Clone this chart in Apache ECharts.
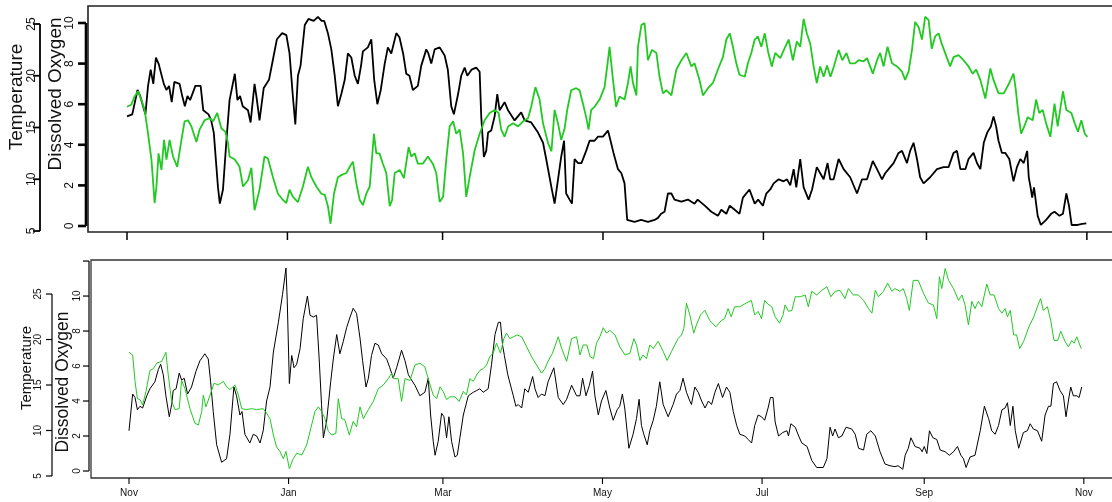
<!DOCTYPE html>
<html>
<head>
<meta charset="utf-8">
<script src="https://cdn.jsdelivr.net/npm/echarts@6/dist/echarts.min.js"></script>
<style>
html,body{margin:0;padding:0;background:#fff;overflow:hidden;}
/* box runs past the right edge of the picture, so the canvas is a bit wider than the window */
#main{width:1140px;height:502px;}
</style>
</head>
<body>
<div id="main"></div>
<script>
// x = days since 1 Nov
var monthTicks=[0,61,120,181,242,304,365];
var monthNames=['Nov','Jan','Mar','May','Jul','Sep','Nov'];
var tempTicks=[5,10,15,20,25];
var doTicksTop=[0,2,4,6,8,10];
var doTicksBottom=[0,2,4,6,8,10,12];
var doLabelsBottom=[0,2,4,6,8,10];

// upper panel - dissolved oxygen (black)
var topDO=[[0,5.4],[2,5.5],[4,6.7],[5,6.4],[7,5.5],[8,6.9],[9,7.7],[10,7.0],[11,8.3],[12,8.0],[14,7.0],[15,6.7],[16,6.9],[17,6.1],[18,7.1],[20,7.0],[21,6.4],[22,5.9],[23,6.4],[24,6.2],[26,6.9],[28,6.9],[29,5.7],[31,5.5],[32,5.2],[33,4.6],[34.6,1.9],[35.3,1.1],[36.5,1.8],[37.8,4.2],[39,6.2],[41,7.5],[42,6.2],[43,6.4],[44,5.9],[46,5.7],[47,5.1],[48.5,7.0],[49.2,6.4],[50.4,5.2],[52,6.8],[54,7.2],[55.5,8.2],[57,9.2],[59,9.5],[60.6,9.4],[61.8,8.5],[63,6.5],[64,5.0],[65,7.4],[66,7.9],[67.6,9.9],[69,10.2],[71,10.1],[72.6,10.3],[74,10.1],[75,10.1],[76.4,9.5],[77.7,8.7],[79,7.4],[80.2,5.9],[81.5,6.5],[82.8,7.2],[84,8.5],[85.3,8.3],[86.6,7.4],[87.8,7.0],[89,7.9],[89.7,8.6],[91.6,8.8],[92.9,9.2],[94,7.2],[95.2,6.0],[96.5,6.7],[98,8.0],[99.2,8.8],[100.5,8.5],[102.4,9.5],[103.6,9.3],[105,8.5],[106.2,7.5],[107.4,7.4],[108.7,6.7],[110.6,6.9],[111.9,7.9],[113.8,8.7],[114.6,8.5],[115.7,8.0],[117,8.7],[118.9,8.8],[120.8,8.4],[122,7.7],[123.3,5.9],[124.3,5.5],[125.9,6.5],[127.1,7.4],[128.4,7.8],[129.4,7.4],[131,7.7],[132.8,7.8],[134.1,7.6],[134.7,5.4],[135.7,3.4],[136.6,3.7],[137.3,4.6],[138.5,4.7],[139.8,5.4],[140.8,6.5],[141.7,5.7],[143.6,6.1],[144.9,5.7],[147.4,5.2],[149.9,5.6],[151.2,5.2],[153.7,5.1],[156.3,4.6],[158.2,4.1],[159.4,3.3],[161.4,1.9],[162.6,1.1],[163.9,2.3],[165.1,3.4],[166.2,4.2],[167,1.6],[168.3,1.3],[169.2,1.1],[170.2,3.3],[171.5,3.1],[172.8,3.1],[174.6,3.7],[175.9,4.2],[177.8,4.2],[179.1,4.4],[181,4.4],[182.9,4.7],[183.5,4.4],[185,3.6],[186.7,2.8],[188,2.6],[189.2,2.1],[190.2,0.3],[193,0.2],[195.5,0.3],[198.1,0.2],[200.6,0.3],[201.9,0.4],[203.1,0.6],[204.4,0.7],[205.7,1.6],[207,1.6],[208.2,1.3],[210.8,1.2],[213.3,1.3],[215.8,1.1],[217,1.3],[219.7,1.0],[222.2,0.7],[224.7,0.5],[226,0.8],[227.9,0.6],[229.2,1.0],[231.1,0.8],[232.9,0.6],[234.2,1.4],[236.7,1.8],[238.7,1.1],[240,1.3],[241.8,1.0],[243.1,1.6],[244.6,1.8],[245.9,2.1],[247.8,2.3],[249.7,2.2],[251,2.3],[252.2,2.0],[253.5,2.8],[254.5,1.9],[256,3.3],[257.3,1.9],[259.2,1.3],[260.5,1.8],[262.3,2.9],[263.6,2.6],[264.9,2.3],[266.4,3.1],[267.4,2.3],[268.7,2.3],[270.6,3.3],[272.5,2.8],[275,2.4],[277.6,1.6],[279.5,2.3],[281.4,2.3],[283.6,3.2],[285.2,2.8],[287.1,2.3],[288.3,2.6],[289.6,2.8],[291.5,3.1],[293.4,3.6],[294.7,3.7],[296.6,3.1],[297.8,3.7],[299.1,4.1],[300.4,3.3],[301.6,2.4],[302.9,2.1],[305.4,2.4],[308,2.8],[310.5,2.9],[312.4,2.9],[314.3,3.6],[315.6,3.7],[316.9,2.8],[318.8,2.8],[320,3.3],[321.9,3.6],[323.2,3.1],[324.5,2.8],[325.8,4.1],[327.1,4.6],[328.5,4.9],[329.5,5.4],[330.5,4.9],[331.4,4.2],[332.7,3.6],[334,3.6],[335.5,3.3],[337.1,2.2],[338.4,2.9],[339.7,3.3],[341,3.1],[342.3,3.7],[342.9,2.4],[343.6,1.9],[344.2,1.4],[344.9,1.9],[346.3,0.5],[347.5,0.05],[349.5,0.3],[351.4,0.6],[352.7,0.7],[354.6,0.5],[355.9,0.6],[357.2,1.6],[358.2,1.0],[359.2,0.05],[361.5,0.05],[363.2,0.1],[364.8,0.13]];

// upper panel - temperature (green)
var topTemp=[[0,17.0],[1.6,17.2],[2.9,18.0],[4.2,18.5],[5.4,17.7],[6.7,16.7],[8,14.4],[9.3,11.9],[10.5,7.7],[11.2,9.3],[12,12.5],[13.1,10.9],[14.1,13.8],[15,11.9],[16.2,13.8],[17.5,12.2],[19.1,11.2],[20.7,13.8],[21.9,15.6],[23.2,15.7],[24.5,15.1],[26.4,13.6],[27.6,14.8],[29.5,15.7],[31.4,15.9],[32.7,15.6],[34.3,16.4],[35.9,14.9],[37.4,14.6],[38.4,13.5],[39,12.2],[41,11.9],[42.8,11.2],[44.1,9.3],[46,9.9],[47.3,11.1],[48.5,7.0],[50.4,9.0],[52.3,12.2],[53.6,12.0],[55.5,10.2],[57.4,8.6],[59.3,8.0],[60.6,7.7],[61.8,9.0],[63.1,8.3],[65,7.8],[66.9,9.3],[68.8,11.2],[70.1,10.2],[72,9.3],[73.9,8.6],[75.2,8.5],[76.4,7.4],[77.4,5.7],[78.7,8.6],[80.2,10.2],[81.5,10.4],[83.4,10.6],[84.7,11.2],[85.9,11.7],[87.2,9.6],[88.5,8.0],[89.7,7.5],[91,8.6],[92.3,9.3],[93.9,14.4],[94.8,12.5],[96,12.5],[97.3,11.5],[98.6,10.6],[99.9,7.4],[100.8,8.0],[101.8,10.6],[103.7,10.9],[105.3,10.1],[107.1,13.1],[108.1,12.2],[109.4,12.5],[110.6,11.5],[112.5,11.5],[114.4,12.2],[116.3,11.5],[117.6,10.6],[118.9,7.8],[120.2,8.3],[121.4,11.9],[122.7,15.1],[124,15.6],[125.2,14.4],[126.5,14.8],[127.8,12.5],[129,8.3],[130.3,10.2],[132.2,12.8],[134.1,14.4],[136,15.7],[137.9,16.4],[139.8,16.7],[141.3,16.4],[142.3,14.8],[143.6,14.1],[144.9,15.1],[146.8,15.4],[148.7,15.1],[150.6,15.6],[152.5,15.9],[153.7,17.0],[155.3,18.9],[156.9,17.7],[158.2,15.4],[160.1,13.5],[161.4,12.7],[162.6,16.7],[163.9,15.4],[165.1,13.8],[166.4,14.9],[167.4,16.7],[168.9,18.6],[170.8,18.8],[172.1,18.6],[173.4,17.3],[174.6,16.0],[175.5,14.8],[176.5,16.7],[177.8,17.0],[179.7,17.7],[181.6,18.9],[182.6,20.9],[183.5,22.8],[184.8,19.6],[186,17.0],[187.3,18.0],[189.2,17.7],[190.5,19.3],[191.5,20.9],[192.4,19.3],[193.7,18.1],[194.3,22.8],[195.6,24.9],[196.8,25.1],[198.1,21.5],[199.6,22.5],[201.3,22.2],[202.5,19.9],[203.8,18.3],[205.1,18.6],[207,18.1],[208.9,20.6],[210.8,21.5],[212.7,22.2],[214.6,20.9],[215.8,21.2],[217.7,19.6],[219,18.1],[220.9,18.8],[222.8,19.3],[224.7,20.6],[226.6,21.8],[227.9,23.5],[229.2,24.1],[230.4,22.8],[231.7,21.2],[232.9,20.1],[234.9,19.9],[236.1,21.2],[237.4,22.2],[238.7,23.5],[239.9,23.8],[241.2,22.8],[242.5,24.1],[243.8,22.3],[245.2,20.9],[246.5,22.2],[248.4,21.7],[250.3,22.8],[251.6,23.5],[253.2,21.5],[254.7,23.3],[256,22.8],[257.3,25.5],[258.5,24.1],[259.8,23.1],[261.1,20.9],[262.3,19.3],[263.6,20.9],[264.9,19.9],[266.2,21.0],[267.5,19.9],[268.8,20.9],[270.6,22.5],[272,21.5],[273.6,22.2],[274.9,21.2],[276.8,21.2],[278.2,21.5],[280.1,21.4],[281.4,21.7],[283.6,20.2],[285.2,21.5],[286.4,22.2],[287.7,20.9],[289.2,22.8],[290.9,21.2],[292.8,20.9],[294.7,20.4],[295.9,19.6],[297.2,20.4],[298.5,22.5],[299.7,25.2],[301,24.7],[302.3,23.5],[303.5,25.7],[304.8,25.4],[306,22.6],[307.3,23.8],[308.6,24.1],[309.8,23.1],[311.7,21.8],[313,20.9],[314.3,21.8],[316.2,22.0],[318.1,21.5],[320,20.9],[321.6,20.2],[322.9,20.6],[324.5,19.6],[326.4,17.8],[328.3,20.7],[329.5,19.6],[331.4,18.3],[333.4,18.3],[335.5,19.3],[337.1,20.2],[338,18.6],[338.9,16.4],[340,14.4],[341.2,15.1],[342.5,16.0],[344.4,15.7],[345.7,17.7],[346.9,16.4],[348.2,16.7],[349.5,15.4],[351.1,14.1],[352.7,17.3],[353.9,15.1],[355.9,18.5],[357.2,16.7],[359.1,16.4],[360.4,15.4],[361.6,14.6],[362.9,15.7],[364.2,14.4],[365.2,14.1]];

// lower panel - dissolved oxygen (black)
var botDO=[[0,2.3],[1.4,4.4],[2.3,4.2],[3.2,3.5],[4.2,3.7],[5.2,3.6],[6.8,4.3],[8,4.7],[9.9,5.1],[11.2,5.8],[12.1,6.1],[13.1,5.5],[14.1,4.3],[15.4,3.1],[16.3,3.8],[16.9,4.6],[18,4.7],[19.2,5.6],[20.1,5.2],[21.1,5.3],[22.4,4.4],[23.9,4.8],[25.6,5.7],[27.1,6.3],[29,6.7],[30.3,6.4],[31.2,5.1],[32.2,3.4],[33.5,1.5],[35.4,0.5],[37.3,0.7],[38.6,2.1],[40.1,4.8],[41.1,4.3],[42.4,3.2],[43.2,3.4],[44.3,2.1],[46.2,1.6],[47.5,2.1],[48.8,2.0],[50.1,1.6],[51.3,2.3],[52.6,4.0],[53.9,4.8],[55.2,6.8],[57.1,8.5],[58.7,10.1],[60,11.6],[60.5,9.7],[61.3,5.0],[62.2,6.6],[63.1,5.9],[64.1,6.1],[65.4,7.0],[66.6,8.7],[68.2,10.0],[69.2,8.9],[70.4,8.8],[71.7,8.9],[72.7,6.4],[73.6,3.8],[74.3,1.9],[75.5,2.8],[77.1,5.1],[78.1,6.4],[79.4,7.8],[80.6,6.7],[81.9,7.4],[83.2,8.2],[84.5,8.8],[85.7,9.3],[87,9.0],[88.3,7.6],[89.3,6.3],[90.6,4.8],[91.5,5.3],[92.7,6.6],[94,7.3],[95.3,7.2],[96.6,6.7],[98.5,6.4],[99.7,5.9],[101,5.3],[102.3,5.9],[104.2,6.9],[105.5,6.3],[106.8,5.5],[108,5.2],[109.3,4.9],[111.2,4.3],[113.1,4.5],[114.4,5.3],[115.3,3.2],[116.3,1.7],[117,0.9],[118.2,1.7],[119.5,3.3],[120.4,3.1],[121.4,1.9],[122.3,3.1],[123.3,1.7],[124.6,0.8],[125.5,0.9],[126.5,1.9],[127.8,3.2],[129.7,4.3],[131.6,4.5],[132.9,4.6],[134.1,4.7],[135.4,4.5],[137.3,4.7],[138.6,6.1],[139.9,7.8],[141.2,8.5],[142,8.5],[142.8,7.2],[143.5,6.6],[144.8,5.5],[146.9,4.3],[147.9,3.7],[148.8,3.8],[150.1,3.6],[151.3,4.7],[152.6,4.5],[154.3,5.4],[155.2,4.7],[156.4,4.2],[157.7,4.4],[159,4.3],[160.2,5.1],[162.4,5.9],[164.1,4.2],[166,3.8],[167.3,4.1],[169.2,4.9],[171.1,4.3],[172.4,4.3],[173.4,5.3],[174.7,4.3],[176,4.9],[177.2,5.7],[178.1,4.3],[179.4,3.2],[180.6,4.0],[182.3,4.6],[183.8,3.6],[185.1,2.9],[186.6,3.5],[187.6,3.7],[188.6,4.4],[189.5,3.6],[191.1,1.3],[192.7,2.1],[194,3.0],[195,4.1],[195.9,2.6],[196.8,2.1],[198.1,1.5],[199.1,2.3],[200.4,2.9],[201.6,3.7],[202.9,5.1],[204.2,3.8],[206.1,3.1],[208,3.8],[209.3,4.4],[210.6,4.6],[211.8,5.3],[213.1,4.5],[214.4,4.0],[215,3.8],[216.3,4.8],[217.6,4.5],[218.9,4.0],[220.2,3.6],[221.5,4.0],[222.7,3.8],[224,4.5],[225.3,5.0],[226.9,4.2],[228.4,4.8],[229.7,4.5],[231,3.4],[232.3,2.6],[233.5,2.1],[235.4,2.0],[236.7,1.8],[238,1.6],[239.2,2.6],[240.5,3.2],[241.8,3.1],[243,2.9],[244.3,3.6],[245.2,4.2],[246.2,4.2],[247,2.8],[248.3,2.0],[249.9,2.2],[251.5,2.3],[252.1,2.0],[253,2.7],[254.7,2.5],[256,2.0],[257.2,1.6],[259.2,1.4],[261,0.6],[262.9,0.2],[265.4,0.2],[266.8,0.7],[268,2.5],[269,2.0],[269.9,2.4],[271.2,1.9],[272.5,2.0],[274.1,2.5],[276.3,2.4],[277.6,2.1],[278.9,1.3],[280.8,1.2],[282,2.1],[283.6,2.3],[285.3,2.0],[287.1,1.1],[289,0.4],[290.9,0.3],[292.8,0.25],[294,0.3],[295.8,0.1],[296.7,0.9],[297.9,1.3],[298.9,1.9],[300.5,1.4],[302.4,1.3],[303.2,1.1],[304,1.4],[305,1.0],[306,2.3],[307.3,1.9],[308.8,1.8],[310.1,1.2],[312,1.1],[313.6,0.9],[315.2,1.1],[316.7,1.4],[318,0.9],[319,0.7],[320,0.2],[321.5,0.8],[323.4,0.9],[325.4,2.3],[327,3.7],[328.6,3.0],[329.8,2.3],[331.1,2.1],[332.4,2.6],[333.7,3.5],[334.9,3.6],[335.8,3.9],[336.9,2.6],[337.9,3.7],[338.8,2.3],[340.1,1.3],[341.9,2.2],[343.4,2.3],[344.5,2.7],[345.7,2.4],[347.3,2.3],[348.9,1.7],[350.2,3.2],[351.5,3.7],[352.4,3.7],[353.4,5.0],[354.6,5.1],[355.9,4.6],[357.2,4.3],[358.2,3.1],[359.1,4.0],[360,4.8],[361,4.3],[362.3,4.3],[363.2,4.2],[364.2,4.8]];

// lower panel - temperature (green)
var botTemp=[[0,18.6],[1.4,18.3],[2.3,15.4],[3.2,13.5],[4.2,13.4],[5.2,12.8],[6.5,14.3],[8,16.6],[9.3,16.8],[10.6,17.4],[12.5,17.6],[14.1,18.6],[15,16.1],[16.3,13.2],[17.6,12.3],[19.2,12.4],[20.1,15.5],[21.4,14.6],[23.3,12.4],[25.2,10.8],[26.5,10.6],[27.8,12.1],[28.4,13.9],[29.4,12.6],[31,13.9],[32.5,15.2],[34.1,15.0],[36.1,15.4],[37.3,14.8],[38.6,14.5],[40.5,15.0],[41.8,13.9],[43.1,12.4],[45,12.3],[46.9,12.4],[48.8,12.3],[51.3,12.4],[52.6,11.9],[53.9,11.3],[55.2,9.5],[56.4,8.2],[57.7,7.7],[59,6.9],[60,7.7],[61.3,5.8],[62.8,6.9],[64.1,7.5],[66,7.3],[67.9,8.4],[69.8,10.6],[71.1,12.1],[72.4,12.6],[73.6,12.1],[74.9,11.3],[76.2,9.9],[77.5,9.5],[79.1,9.7],[80,13.5],[81.3,11.3],[82.5,11.2],[84.2,9.5],[85.7,11.0],[87,10.4],[88.3,12.6],[89.6,11.3],[91.5,12.3],[93.4,13.2],[95.3,14.6],[97.2,15.0],[99.1,15.7],[100.4,16.3],[101.3,15.7],[102.9,15.7],[104.2,13.2],[105.5,15.7],[107.4,15.5],[109.3,17.2],[111.2,17.4],[113.1,17.0],[115,15.1],[116.3,13.9],[117.6,13.5],[118.9,14.8],[120.1,14.3],[121.4,13.4],[122.7,13.7],[124.6,13.7],[126.2,13.2],[127.8,14.3],[129,13.9],[130.3,15.7],[131.6,15.4],[132.9,16.1],[134.1,16.6],[135.4,16.8],[136.7,17.2],[137.9,18.1],[139.2,18.5],[140.5,19.6],[142,18.5],[143.3,20.1],[144.3,20.7],[145.6,20.1],[146.9,20.3],[148.4,20.5],[150.1,20.3],[152,19.2],[153.9,18.1],[155.8,17.2],[157.7,16.3],[159,16.8],[160.2,17.6],[161.9,18.5],[164.1,20.3],[165.4,19.0],[167.3,17.6],[169.2,20.1],[171.1,20.3],[172.4,18.3],[173.6,19.4],[175,19.4],[176.3,18.1],[177.6,17.9],[178.7,19.6],[180,20.3],[181.3,21.3],[182.5,20.7],[183.8,21.0],[185.8,20.5],[187.6,19.2],[189.6,18.3],[191.5,18.5],[193,20.1],[194,19.4],[195.3,17.7],[196.5,18.3],[197.8,17.9],[199.1,19.4],[200.4,19.0],[202.3,19.8],[204.2,18.7],[205.7,17.7],[207.4,18.7],[209.9,20.1],[211.2,20.5],[212.1,21.2],[213.1,24.0],[214.4,22.7],[215.9,20.7],[216.9,21.6],[218.5,22.7],[220.1,23.2],[222,22.1],[224.3,21.4],[226.5,22.1],[227.7,22.3],[229,23.4],[230.2,22.5],[231.5,23.6],[233.5,23.6],[235.9,24.0],[237.9,24.3],[239.2,22.7],[240.5,23.1],[241.8,22.3],[243,24.3],[244.2,23.9],[245.7,23.6],[247,22.5],[248.7,21.8],[250,22.7],[250.8,23.8],[252.1,23.1],[253.4,23.2],[254.7,24.7],[256.6,24.7],[258.5,24.9],[259.7,23.6],[261,25.3],[262.9,24.9],[264.8,25.4],[266.8,25.8],[268.3,24.7],[269.9,25.3],[271.8,25.4],[273.7,24.5],[275,25.6],[276.9,24.9],[278.8,24.9],[280.8,24.3],[282.7,23.4],[284,22.9],[285.3,25.4],[286.5,24.7],[288.4,25.3],[290,26.2],[291.6,25.3],[292.8,25.6],[294.7,25.3],[296,25.6],[297.3,24.5],[298.3,23.2],[299.8,26.5],[301.7,26.5],[303.7,25.1],[305.6,24.0],[307.5,23.8],[308.8,22.3],[309.8,26.9],[310.7,25.6],[312,27.8],[313.3,26.5],[315.2,25.6],[317.1,24.3],[318.4,24.9],[319.6,23.8],[320.9,21.6],[322.2,24.2],[323.4,23.4],[324.7,24.2],[326,23.6],[327.9,26.1],[329.2,24.9],[330.7,24.9],[332.4,23.4],[333.7,22.9],[334.9,23.4],[335.8,22.5],[336.9,23.2],[338.2,20.5],[339.3,20.5],[340.5,19.0],[342,19.8],[344,21.4],[345.9,22.5],[347.5,23.8],[348.5,24.5],[349.5,23.2],[351.1,23.6],[352.4,22.0],[353.6,19.9],[355,19.9],[356.2,20.9],[357.8,19.8],[359.1,19.2],[360.4,19.9],[361.3,19.6],[362.3,20.3],[364,19.0]];

var green='#22c922';
var font='Liberation Sans';

var chart=echarts.init(document.getElementById('main'));

// y axis: only the rotated labels come from echarts, ticks and spine are drawn below
function yAxisCfg(gi,offset,min,max,labels,labSize,margin){
	return {
		type:'value',gridIndex:gi,position:'left',offset:offset,min:min,max:max,
		axisLine:{show:false},axisTick:{show:false},splitLine:{show:false},
		axisLabel:{customValues:labels,rotate:90,margin:margin,fontSize:labSize,color:'#111',fontFamily:font}
	};
}
function xAxisCfg(gi,min,max,showLab){
	return {
		type:'value',gridIndex:gi,min:min,max:max,
		axisLine:{show:false},axisTick:{show:false},splitLine:{show:false},
		axisLabel:{show:showLab,customValues:monthTicks,margin:10,fontSize:10,color:'#111',fontFamily:font,
			formatter:function(v){return monthNames[monthTicks.indexOf(v)];}}
	};
}

var option={
	animation:false,
	backgroundColor:'#fff',
	grid:[
		{left:88,top:6,width:1037,height:226,show:true,borderColor:'#222',borderWidth:1.6},
		{left:91,top:260,width:1031,height:218,show:true,borderColor:'#333',borderWidth:1.3}
	],
	xAxis:[
		xAxisCfg(0,-14.83,379.5,false),
		xAxisCfg(1,-14.53,379.6,true)
	],
	yAxis:[
		yAxisCfg(0,48,4.903,26.739,tempTicks,12,2),
		yAxisCfg(0,2,-0.296,10.837,doTicksTop,12,10),
		yAxisCfg(1,39,4.78,28.74,tempTicks,10,9),
		yAxisCfg(1,2,-0.4,12.06,doLabelsBottom,10,7)
	],
	series:[
		{type:'line',xAxisIndex:0,yAxisIndex:1,data:topDO,showSymbol:false,lineStyle:{color:'#000',width:1.8},itemStyle:{color:'#000'}},
		{type:'line',xAxisIndex:0,yAxisIndex:0,data:topTemp,showSymbol:false,lineStyle:{color:green,width:1.8},itemStyle:{color:green}},
		{type:'line',xAxisIndex:1,yAxisIndex:3,data:botDO,showSymbol:false,lineStyle:{color:'#000',width:1},itemStyle:{color:'#000'}},
		{type:'line',xAxisIndex:1,yAxisIndex:2,data:botTemp,showSymbol:false,lineStyle:{color:green,width:1},itemStyle:{color:green}}
	]
};
chart.setOption(option);

// R style axes: spine over the tick range only, ticks pointing out
var g=[];
function line(x1,y1,x2,y2,w){
	g.push({type:'line',silent:true,shape:{x1:x1,y1:y1,x2:x2,y2:y2},style:{stroke:'#000',lineWidth:w}});
}
function yAxisDraw(yi,x,vals,len,w){
	var a=chart.convertToPixel({yAxisIndex:yi},vals[0]);
	var b=chart.convertToPixel({yAxisIndex:yi},vals[vals.length-1]);
	line(x,a,x,b,w);
	for(var i=0;i<vals.length;i++){
		var y=chart.convertToPixel({yAxisIndex:yi},vals[i]);
		line(x-len,y,x,y,w);
	}
}
function xTicksDraw(xi,y,len,w){
	for(var i=0;i<monthTicks.length;i++){
		var x=chart.convertToPixel({xAxisIndex:xi},monthTicks[i]);
		line(x,y,x,y+len,w);
	}
}
function title(txt,x,y,size){
	g.push({type:'text',silent:true,x:x,y:y,rotation:Math.PI/2,
		style:{text:txt,fontSize:size,fontFamily:font,fill:'#111',align:'center',verticalAlign:'middle'}});
}
yAxisDraw(0,88-48,tempTicks,7,1.8);
yAxisDraw(1,88-2,doTicksTop,8,2.6);
yAxisDraw(2,91-39,tempTicks,6,1.2);
yAxisDraw(3,91-2,doTicksBottom,6,1.2);
xTicksDraw(0,232,8,1.5);
xTicksDraw(1,478,6,1.1);
title('Temperature',17,97,19);
title('Dissolved Oxygen',56,94,19);
title('Temperature',27,368,15);
title('Dissolved Oxygen',63,382,17.5);
chart.setOption({graphic:g});
</script>
</body>
</html>
